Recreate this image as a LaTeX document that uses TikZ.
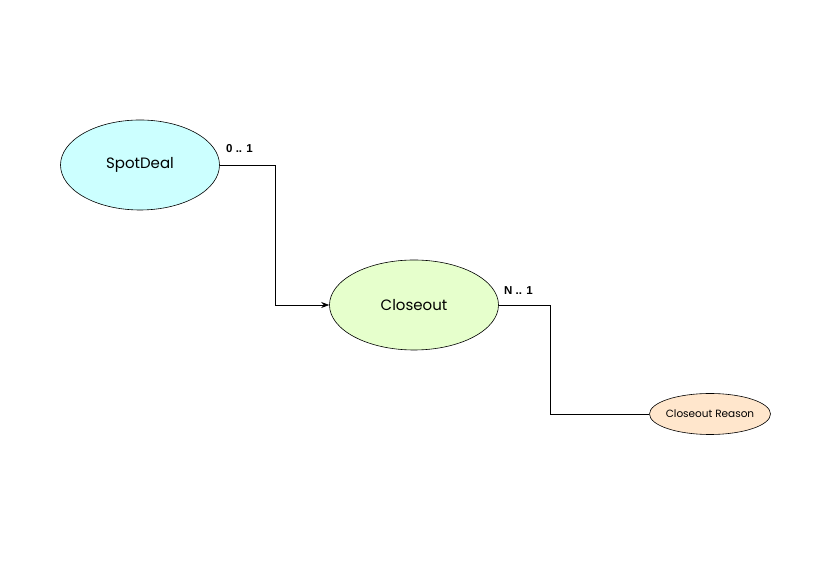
\documentclass[tikz,border=0pt]{standalone}
\usepackage{fontspec}
\setmainfont{Liberation Sans}
\newfontfamily\handfont{Poppins}
\usetikzlibrary{shapes.geometric,arrows.meta}
\definecolor{cyanfill}{HTML}{CCFFFF}
\definecolor{greenfill}{HTML}{E6FFCC}
\definecolor{orangefill}{HTML}{FFE6CC}
\tikzset{
  ent/.style={ellipse, draw=black, line width=0.6pt, inner sep=0pt, font=\handfont},
  conn/.style={draw=black, line width=0.7pt},
  card/.style={font=\bfseries\fontsize{11.5}{13}\selectfont, inner sep=0pt, anchor=west}
}
\begin{document}
\begin{tikzpicture}[x=1pt,y=1pt]
\useasboundingbox (0,0) rectangle (827,583);
\node[ent, fill=cyanfill, minimum width=159pt, minimum height=90pt, font=\handfont\fontsize{15}{18}\selectfont] (spot) at (140,418) {SpotDeal};
\node[ent, fill=greenfill, minimum width=169pt, minimum height=90pt, font=\handfont\fontsize{15}{18}\selectfont] (close) at (414,278) {Closeout};
\node[ent, fill=orangefill, minimum width=121pt, minimum height=41pt, inner xsep=-10pt, font=\handfont\fontsize{10.5}{12}\selectfont] (reason) at (710,169) {Closeout Reason};
\coordinate (b1) at (275,418);
\coordinate (b2) at (275,278);
\coordinate (c1) at (550,278);
\coordinate (c2) at (550,169);
\draw[conn, -{Stealth[length=8pt,width=6pt]}] (spot.east) -- (b1) -- (b2) -- (close.west);
\draw[conn] (close.east) -- (c1) -- (c2) -- (reason.west);
\node[card] (l1) at (226,434) {0 .. 1};
\node[card] (l2) at (504,292) {N .. 1};
\end{tikzpicture}
\end{document}
